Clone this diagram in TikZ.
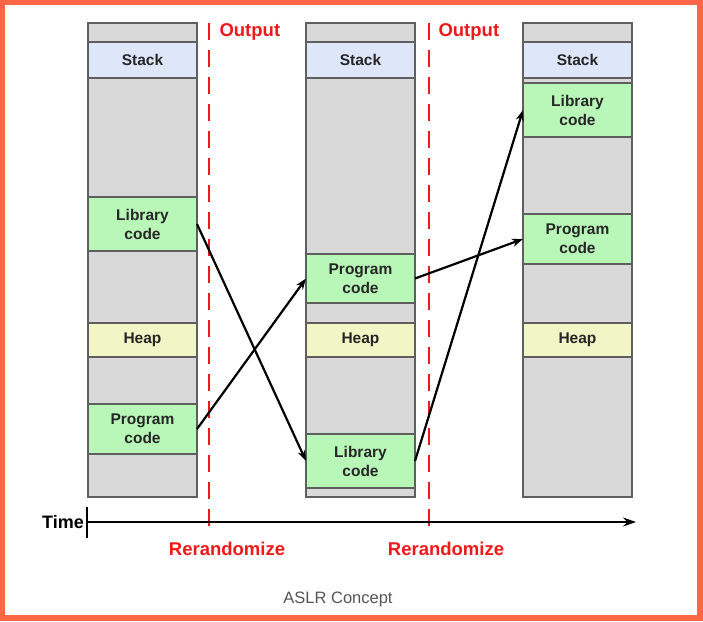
\documentclass[tikz,border=0pt]{standalone}
\usepackage{fontspec}
\setmainfont{Liberation Sans}
\usetikzlibrary{arrows.meta}
\definecolor{frameor}{HTML}{FF6647}
\definecolor{segray}{HTML}{D9D9D9}
\definecolor{segedge}{HTML}{5F5F5F}
\definecolor{stackc}{HTML}{DEE7F9}
\definecolor{greenc}{HTML}{B8F7B8}
\definecolor{heapc}{HTML}{F2F6C6}
\definecolor{redc}{HTML}{F01818}
\definecolor{capc}{HTML}{555555}
\tikzset{
  colbox/.style={draw=segedge, fill=segray, line width=1.5pt},
  seg/.style={draw=segedge, line width=1.5pt, minimum width=109pt, anchor=north west,
    inner sep=0pt, outer sep=0pt, align=center, text=black!85,
    font=\fontsize{15.5}{19}\selectfont\bfseries},
  redlbl/.style={text=redc, font=\fontsize{18.5}{22}\selectfont\bfseries},
  reddash/.style={draw=redc, line width=2.6pt, dash pattern=on 17pt off 10pt},
  arr/.style={draw=black, line width=2.2pt, -{Stealth[length=11pt,width=8pt]}},
}
\begin{document}
\begin{tikzpicture}[x=1pt,y=-1pt]
\useasboundingbox (0,0) rectangle (703,621);
\fill[frameor] (0,0) rectangle (703,621);
\fill[white] (5,5) rectangle (697,615);

% columns
\draw[colbox] (88,23) rectangle (197,497);
\draw[colbox] (306,23) rectangle (415,497);
\draw[colbox] (523,23) rectangle (632,497);

% column 1
\node[seg, fill=stackc, minimum height=36pt] (st1) at (88,42) {Stack};
\node[seg, fill=greenc, minimum height=54pt] (lib1) at (88,197) {Library\\code};
\node[seg, fill=heapc, minimum height=34pt] (hp1) at (88,323) {Heap};
\node[seg, fill=greenc, minimum height=50pt] (prog1) at (88,404) {Program\\code};

% column 2
\node[seg, fill=stackc, minimum height=36pt] (st2) at (306,42) {Stack};
\node[seg, fill=greenc, minimum height=49pt] (prog2) at (306,254) {Program\\code};
\node[seg, fill=heapc, minimum height=34pt] (hp2) at (306,323) {Heap};
\node[seg, fill=greenc, minimum height=54pt] (lib2) at (306,434) {Library\\code};

% column 3
\node[seg, fill=stackc, minimum height=36pt] (st3) at (523,42) {Stack};
\node[seg, fill=greenc, minimum height=54pt] (lib3) at (523,83) {Library\\code};
\node[seg, fill=greenc, minimum height=50pt] (prog3) at (523,214) {Program\\code};
\node[seg, fill=heapc, minimum height=34pt] (hp3) at (523,323) {Heap};

% red dashed separators
\coordinate (d1t) at (209,23); \coordinate (d1b) at (209,527);
\coordinate (d2t) at (429,23); \coordinate (d2b) at (429,527);
\draw[reddash] (d1t) -- (d1b);
\draw[reddash] (d2t) -- (d2b);
\node[redlbl, anchor=west] (out1) at (216,32) {Output};
\node[redlbl, anchor=west] (out2) at (435,32) {Output};
\node[redlbl] (rr1) at (227,549) {Rerandomize};
\node[redlbl] (rr2) at (446,549) {Rerandomize};

% time axis
\node[font=\fontsize{18}{22}\selectfont\bfseries, anchor=east, inner sep=1pt] (time) at (85,522) {Time};
\coordinate (tk1) at (87,507); \coordinate (tk2) at (87,538);
\coordinate (ax0) at (87,522); \coordinate (ax1) at (636,522);
\draw[line width=2.4pt] (tk1) -- (tk2);
\draw[line width=2.2pt, -{Stealth[length=13pt,width=9pt]}] (ax0) -- (ax1);

% arrows
\draw[arr] (lib1.east) -- (lib2.west);
\draw[arr] (prog1.east) -- (prog2.west);
\draw[arr] (prog2.east) -- (prog3.west);
\draw[arr] (lib2.east) -- (lib3.west);

% caption
\node[text=capc, font=\fontsize{16.5}{20}\selectfont] (cap) at (338,599) {ASLR Concept};
\end{tikzpicture}
\end{document}
